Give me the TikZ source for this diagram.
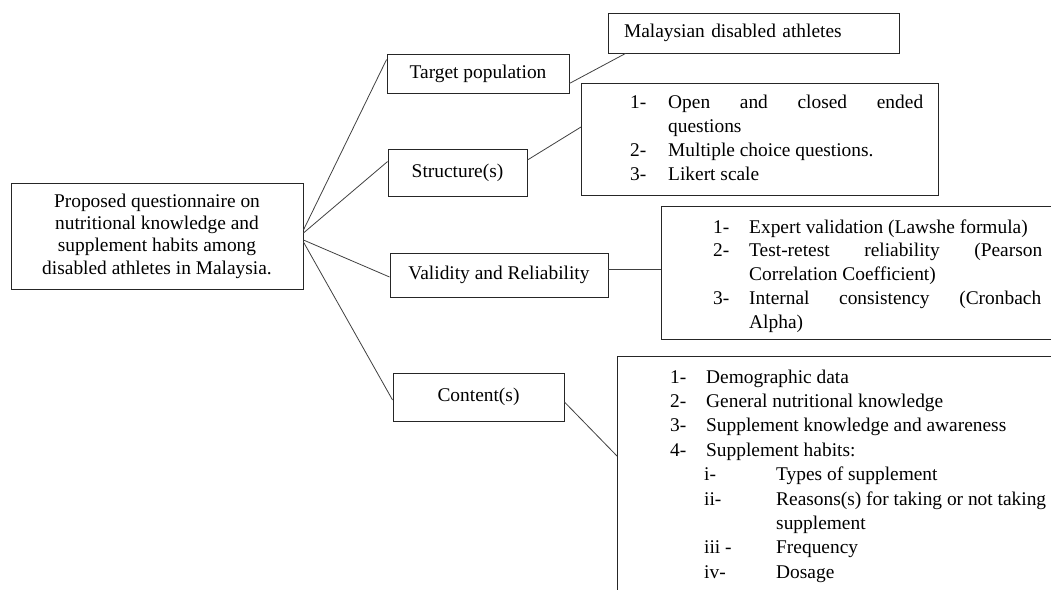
\documentclass[tikz,border=0pt]{standalone}
\usepackage{fontspec}
\setmainfont{Liberation Serif}
\newcommand{\numcol}[2]{\makebox[#1][l]{#2}}
\begin{document}
\begin{tikzpicture}[x=1pt,y=-1pt,
  frame/.style={draw=black!85, line width=0.9pt, fill=white, inner sep=0pt},
  box/.style={frame, text height=13pt, text depth=4pt,
              font=\fontsize{19.4}{24}\selectfont},
  listbox/.style={frame, anchor=north west},
  listtext/.style={inner sep=0pt, anchor=base west},
  link/.style={draw=black!75, line width=0.8pt}]
\useasboundingbox (0,0) rectangle (1051,589);
\clip (0,0) rectangle (1051,589);

% root
\node[frame, minimum width=292pt, minimum height=106pt, align=center,
      font=\fontsize{19.4}{22.4}\selectfont] (root) at (157,236)
  {Proposed questionnaire on\\nutritional knowledge and\\supplement habits among\\disabled athletes in Malaysia.};

% first level
\node[box, minimum width=182pt, minimum height=39pt] (tp) at (478,73.5) {Target population};
\node[box, minimum width=139pt, minimum height=47pt] (st) at (457.5,172.5) {Structure(s)};
\node[box, minimum width=218pt, minimum height=44pt] (va) at (499,275) {Validity and Reliability};
\node[box, minimum width=171pt, minimum height=48pt] (co) at (478.5,397) {Content(s)};

% second level
\node[box, minimum height=40pt, text width=259pt, align=left, inner xsep=16pt]
  (mal) at (753.5,33) {Malaysian disabled athletes};
\node[listbox, minimum width=357pt, minimum height=112pt] (lk) at (581,83) {};
\node[listbox, minimum width=420pt, minimum height=133pt] (ex) at (661,206) {};
\node[listbox, minimum width=460pt, minimum height=260pt] (cb) at (617,356) {};

% list contents
\node[listtext, font=\fontsize{19.4}{24}\selectfont] (lkT) at (630,108) {%
\begin{tabular}[t]{@{}l@{}}
\numcol{38pt}{1-}\hbox to 255pt{Open\hfill and\hfill closed\hfill ended}\\
\numcol{38pt}{}questions\\
\numcol{38pt}{2-}Multiple choice questions.\\
\numcol{38pt}{3-}Likert scale
\end{tabular}};

\node[listtext, font=\fontsize{19.4}{23.8}\selectfont] (exT) at (713,233) {%
\begin{tabular}[t]{@{}l@{}}
\numcol{36pt}{1-}Expert validation (Lawshe formula)\\
\numcol{36pt}{2-}\hbox to 293pt{Test-retest\hfill reliability\hfill (Pearson}\\
\numcol{36pt}{}Correlation Coefficient)\\
\numcol{36pt}{3-}\hbox to 292pt{Internal\hfill consistency\hfill (Cronbach}\\
\numcol{36pt}{}Alpha)
\end{tabular}};

\node[listtext, font=\fontsize{19.4}{24.4}\selectfont] (cbT) at (670,383) {%
\begin{tabular}[t]{@{}l@{}}
\numcol{36pt}{1-}Demographic data\\
\numcol{36pt}{2-}General nutritional knowledge\\
\numcol{36pt}{3-}Supplement knowledge and awareness\\
\numcol{36pt}{4-}Supplement habits:\\
\hspace*{34pt}\numcol{72pt}{i-}Types of supplement\\
\hspace*{34pt}\numcol{72pt}{ii-}Reasons(s) for taking or not taking\\
\hspace*{106pt}supplement\\
\hspace*{34pt}\numcol{72pt}{iii -}Frequency\\
\hspace*{34pt}\numcol{72pt}{iv-}Dosage
\end{tabular}};

% connectors from the root
\draw[link] ([yshift=6pt]root.east) -- ([yshift=-6pt]tp.north west);
\draw[link] ([yshift=3pt]root.east) -- ([yshift=-13pt]st.north west);
\draw[link] ([yshift=-4pt]root.east) -- ([yshift=-2pt]va.west);
\draw[link] ([yshift=-6pt]root.east) -- ([yshift=-3pt]co.west);

% connectors to the detail boxes
\draw[link] ([yshift=10pt]tp.south east) -- ([xshift=18pt]mal.south west);
\draw[link] ([yshift=12.5pt]st.east) -- ([yshift=-44pt]lk.north west);
\draw[link] ([yshift=6pt]va.east) -- ([yshift=6pt]va.east -| ex.west);
\draw[link] ([yshift=-5pt]co.east) -- ([yshift=-100pt]cb.north west);
\end{tikzpicture}
\end{document}
